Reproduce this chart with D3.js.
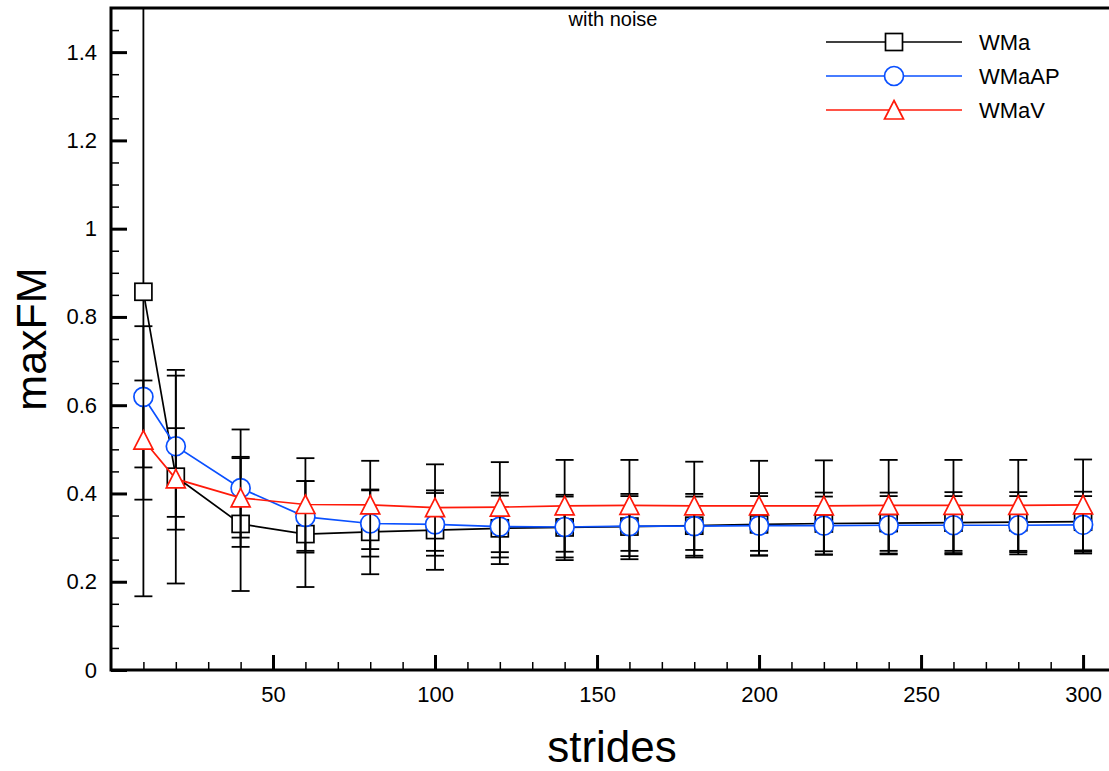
<!DOCTYPE html>
<html>
<head>
<meta charset="utf-8">
<script src="https://cdn.jsdelivr.net/npm/d3@7"></script>
<style>
  body { margin: 0; background: #fff; }
  svg { display: block; font-family: "Liberation Sans", Arial, sans-serif; }
</style>
</head>
<body>
<div id="chart"></div>
<script>
// strides on the x axis
const strides = [10, 20, 40, 60, 80, 100, 120, 140, 160, 180, 200, 220, 240, 260, 280, 300];

// maxFM values
const wma = [0.857, 0.438, 0.331, 0.308, 0.313, 0.317, 0.321, 0.323, 0.325, 0.327, 0.330, 0.332, 0.333, 0.334, 0.335, 0.336];
const wmaErr = [0.69, 0.242, 0.152, 0.12, 0.096, 0.09, 0.081, 0.074, 0.074, 0.072, 0.071, 0.07, 0.069, 0.069, 0.068, 0.068];

const wmaap = [0.619, 0.507, 0.412, 0.347, 0.332, 0.330, 0.325, 0.324, 0.326, 0.326, 0.327, 0.327, 0.328, 0.328, 0.328, 0.329];
const wmaapErr = [0.16, 0.16, 0.133, 0.081, 0.075, 0.071, 0.07, 0.069, 0.068, 0.067, 0.067, 0.066, 0.066, 0.066, 0.066, 0.065];

const wmav = [0.521, 0.433, 0.390, 0.375, 0.374, 0.368, 0.369, 0.372, 0.373, 0.372, 0.372, 0.372, 0.373, 0.373, 0.373, 0.374];
const wmavErr = [0.135, 0.115, 0.09, 0.105, 0.1, 0.098, 0.102, 0.104, 0.103, 0.1, 0.102, 0.103, 0.103, 0.103, 0.103, 0.103];

const seriesNames = ['WMa', 'WMaAP', 'WMaV'];
const yTicks = [0, 0.2, 0.4, 0.6, 0.8, 1, 1.2, 1.4];
const xTicks = [50, 100, 150, 200, 250, 300];

const W = 1109, H = 771;
const LEFT = 111, TOP = 8, BOTTOM = 670;

const series = [
  { name: seriesNames[0], values: wma, err: wmaErr, color: '#000000', shape: 'square' },
  { name: seriesNames[1], values: wmaap, err: wmaapErr, color: '#0a50ff', shape: 'circle' },
  { name: seriesNames[2], values: wmav, err: wmavErr, color: '#ff1a0a', shape: 'triangle' }
];

const svg = d3.select('#chart').append('svg')
  .attr('width', W)
  .attr('height', H);

const x = d3.scaleLinear().domain([0, 308]).range([LEFT, W]);
const y = d3.scaleLinear().domain([0, 1.5]).range([BOTTOM, TOP]);

svg.append('clipPath').attr('id', 'plot')
  .append('rect')
    .attr('x', LEFT).attr('y', TOP)
    .attr('width', W - LEFT).attr('height', BOTTOM - TOP);

// minor ticks first, then majors on top
const yMinor = svg.append('g')
  .attr('transform', `translate(${LEFT},0)`)
  .call(d3.axisLeft(y).tickValues(d3.range(0, 1.5, 0.05)).tickSize(-8).tickFormat(''));
yMinor.select('.domain').remove();
yMinor.selectAll('line').attr('stroke-width', 1.5);

const yAxis = svg.append('g')
  .attr('transform', `translate(${LEFT},0)`)
  .call(d3.axisLeft(y).tickValues(yTicks).tickSize(-16).tickPadding(14).tickFormat(d3.format('')));
yAxis.select('.domain').remove();
yAxis.selectAll('line').attr('stroke-width', 3);
yAxis.selectAll('text').attr('font-size', 22).attr('font-family', '"Liberation Sans", Arial, sans-serif');

const xMinor = svg.append('g')
  .attr('transform', `translate(0,${BOTTOM})`)
  .call(d3.axisBottom(x).tickValues(d3.range(10, 308, 10)).tickSize(-8).tickFormat(''));
xMinor.select('.domain').remove();
xMinor.selectAll('line').attr('stroke-width', 1.5);

const xAxis = svg.append('g')
  .attr('transform', `translate(0,${BOTTOM})`)
  .call(d3.axisBottom(x).tickValues(xTicks).tickSize(-15).tickPadding(16));
xAxis.select('.domain').remove();
xAxis.selectAll('line').attr('stroke-width', 3);
xAxis.selectAll('text').attr('font-size', 22).attr('font-family', '"Liberation Sans", Arial, sans-serif');

// frame
svg.append('path')
  .attr('d', `M${W},${TOP}H${LEFT}V${BOTTOM}H${W}`)
  .attr('fill', 'none')
  .attr('stroke', '#000')
  .attr('stroke-width', 3);

function marker(sel, shape, color) {
  if (shape === 'square') {
    sel.append('rect')
      .attr('x', -8.5).attr('y', -8.5).attr('width', 17).attr('height', 17)
      .attr('fill', '#fff').attr('stroke', color).attr('stroke-width', 1.7);
  } else if (shape === 'circle') {
    sel.append('circle')
      .attr('r', 9.5)
      .attr('fill', '#fff').attr('stroke', color).attr('stroke-width', 1.7);
  } else {
    sel.append('path')
      .attr('d', 'M0,-9.5L9.5,9L-9.5,9Z')
      .attr('fill', '#fff').attr('stroke', color).attr('stroke-width', 1.7);
  }
}

const plot = svg.append('g').attr('clip-path', 'url(#plot)');
const line = d3.line().x(d => x(d.x)).y(d => y(d.v));

series.forEach(s => {
  const pts = strides.map((sx, i) => ({ x: sx, v: s.values[i], e: s.err[i] }));
  const g = plot.append('g');

  g.append('path')
    .datum(pts)
    .attr('d', line)
    .attr('fill', 'none')
    .attr('stroke', s.color)
    .attr('stroke-width', 1.7);

  const eb = g.selectAll('.eb').data(pts).enter().append('g')
    .attr('stroke', '#000')
    .attr('stroke-width', 1.8);
  eb.append('line')
    .attr('x1', d => x(d.x)).attr('x2', d => x(d.x))
    .attr('y1', d => y(d.v + d.e)).attr('y2', d => y(d.v - d.e));
  eb.append('line')
    .attr('x1', d => x(d.x) - 9).attr('x2', d => x(d.x) + 9)
    .attr('y1', d => y(d.v + d.e)).attr('y2', d => y(d.v + d.e));
  eb.append('line')
    .attr('x1', d => x(d.x) - 9).attr('x2', d => x(d.x) + 9)
    .attr('y1', d => y(d.v - d.e)).attr('y2', d => y(d.v - d.e));

  g.selectAll('.mk').data(pts).enter().append('g')
    .attr('transform', d => `translate(${x(d.x)},${y(d.v)})`)
    .each(function () { marker(d3.select(this), s.shape, s.color); });
});

// legend
const legend = svg.append('g');
series.forEach((s, i) => {
  const ly = 42 + i * 34;
  legend.append('line')
    .attr('x1', 826).attr('x2', 962).attr('y1', ly).attr('y2', ly)
    .attr('stroke', s.color).attr('stroke-width', 1.7);
  const m = legend.append('g').attr('transform', `translate(894,${ly})`);
  marker(m, s.shape, s.color);
  legend.append('text')
    .attr('x', 979).attr('y', ly + 8)
    .attr('font-size', 22)
    .text(s.name);
});

// title and axis labels
svg.append('text')
  .attr('x', 613).attr('y', 26)
  .attr('text-anchor', 'middle')
  .attr('font-size', 20)
  .text('with noise');

svg.append('text')
  .attr('x', 612).attr('y', 762)
  .attr('text-anchor', 'middle')
  .attr('font-size', 44)
  .text('strides');

svg.append('text')
  .attr('transform', 'translate(46,339) rotate(-90)')
  .attr('text-anchor', 'middle')
  .attr('font-size', 43)
  .text('maxFM');
</script>
</body>
</html>
